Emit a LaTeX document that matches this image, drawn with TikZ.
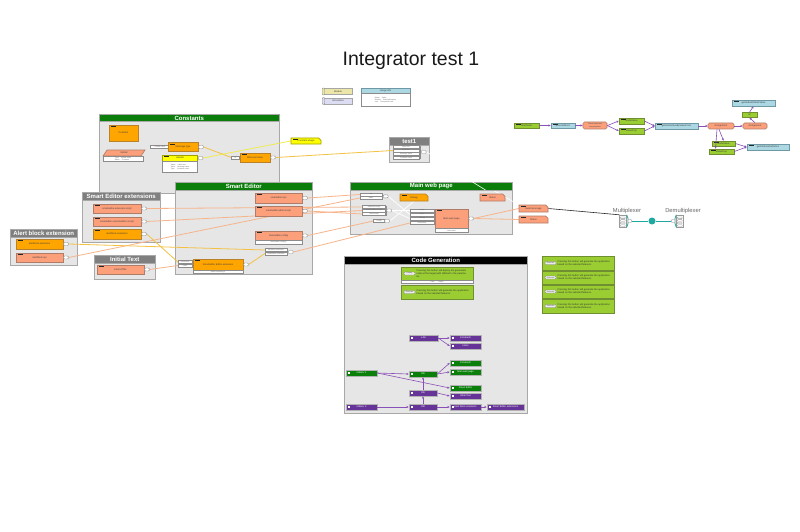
\documentclass[tikz,border=0pt]{standalone}
\usepackage{fontspec}
\setmainfont{Liberation Sans}
\usetikzlibrary{shapes.geometric,shapes.misc,arrows.meta}
\pgfdeclarelayer{grp}
\pgfdeclarelayer{wires}
\pgfsetlayers{grp,wires,main}

\definecolor{hdgreen}{HTML}{0A7D0A}
\definecolor{hdgrey}{HTML}{7F7F7F}
\definecolor{grpfill}{HTML}{E6E6E6}
\definecolor{grpdraw}{HTML}{A8A8A8}
\definecolor{orf}{HTML}{FFA500}
\definecolor{ord}{HTML}{B9812A}
\definecolor{saf}{HTML}{FCA07C}
\definecolor{sad}{HTML}{B07C68}
\definecolor{yef}{HTML}{FFFF00}
\definecolor{yed}{HTML}{A0A000}
\definecolor{lif}{HTML}{9ACD32}
\definecolor{lid}{HTML}{6F8F30}
\definecolor{blf}{HTML}{ACD8E4}
\definecolor{bld}{HTML}{6E98A4}
\definecolor{puf}{HTML}{663399}
\definecolor{dgf}{HTML}{0A800A}
\definecolor{wireor}{HTML}{F7B48A}
\definecolor{wireye}{HTML}{F3C244}
\definecolor{wirey2}{HTML}{F0EC40}
\definecolor{arrpu}{HTML}{8A4FB8}
\definecolor{tealc}{HTML}{1FA9A0}
\definecolor{legy}{HTML}{ECE6A8}
\definecolor{legl}{HTML}{DCDCF2}

\newcommand\tinyf{\fontsize{2.4}{2.9}\selectfont}
\newcommand\microf{\fontsize{1.8}{2.1}\selectfont}

\tikzset{
  grpbody/.style={draw=grpdraw, fill=grpfill, line width=0.9pt, anchor=north west, inner sep=0pt},
  grphead/.style={anchor=north west, inner sep=0pt, minimum height=7.5pt, text=white,
    font=\bfseries\fontsize{6}{6}\selectfont, draw=grpdraw, line width=0.5pt},
  box/.style={rectangle, inner sep=0.5pt, line width=0.6pt, font=\tinyf, align=center, text=black!75},
  ob/.style={box, draw=ord, fill=orf},
  sb/.style={box, draw=sad, fill=saf},
  yb/.style={box, draw=yed, fill=yef},
  gb/.style={box, draw=lid, fill=lif},
  bb/.style={box, draw=bld, fill=blf},
  pb/.style={box, draw=black!30, fill=puf, text=white, ico},
  db/.style={box, draw=black!30, fill=dgf, text=white, ico},
  tag/.style={path picture={\fill[black!85] ([xshift=1.5pt,yshift=-1.3pt]path picture bounding box.north west) rectangle ++(5pt,-0.7pt);}},
  ico/.style={path picture={\fill[white] ([xshift=2pt,yshift=-1pt]path picture bounding box.west) rectangle ++(2pt,2pt);}},
  note/.style={chamfered rectangle, chamfered rectangle corners=north east, chamfered rectangle xsep=1.2pt, chamfered rectangle ysep=1.2pt, tag},
  lbl/.style={rectangle, draw=black!45, fill=white, line width=0.4pt, inner sep=0.3pt, font=\microf, text=black!60, minimum height=3pt},
  port/.style={rectangle, rounded corners=1pt, draw=black!45, fill=white, line width=0.4pt, minimum width=5pt, minimum height=3pt, anchor=west, inner sep=0pt},
  strip/.style={rectangle, draw=black!45, fill=white, line width=0.4pt, anchor=north, inner sep=0.3pt, font=\microf, text=black!60},
  btn/.style={rectangle, rounded corners=0.8pt, draw=black!50, fill=black!8, line width=0.4pt, minimum width=11pt, minimum height=3pt, inner sep=0pt, font=\microf, text=black!70},
  btxt/.style={anchor=west, font=\tinyf, text=black!80, text width=54pt, align=left, inner sep=0pt},
  wo/.style={draw=wireor, line width=0.8pt},
  wy/.style={draw=wireye, line width=0.8pt},
  wy2/.style={draw=wirey2, line width=0.7pt},
  ww/.style={draw=white, line width=0.7pt},
  arr/.style={draw=arrpu, line width=0.6pt, -{Stealth[length=2.4pt,width=2.2pt]}},
  muxbox/.style={rectangle, draw=black!40, fill=white, line width=0.4pt, minimum width=7pt, minimum height=12pt, inner sep=0pt,
    path picture={\foreach \k in {1,...,4}{\draw[black!40, line width=0.3pt, rounded corners=0.6pt]
      ([xshift=0.8pt,yshift=-\k*2.6pt+0.6pt]path picture bounding box.north west) rectangle ++(5pt,-1.6pt);}}},
}

\begin{document}
\begin{tikzpicture}[x=1pt,y=-1pt]
\useasboundingbox (0,0) rectangle (800,532);

% ---------- group frames ----------
\begin{pgfonlayer}{grp}
\fill[white] (0,0) rectangle (800,532);
\node[grpbody, minimum width=180pt, minimum height=79pt] (gConst) at (99,114) {};
\node[grphead, fill=hdgreen, minimum width=180pt] (gConstH) at (99,114) {Constants};
\node[grpbody, minimum width=40pt, minimum height=25pt] (gTest) at (389,137) {};
\node[grphead, fill=hdgrey, minimum width=40pt] (gTestH) at (389,137) {test1};
\node[grpbody, minimum width=78pt, minimum height=50pt] (gSex) at (82,192) {};
\node[grphead, fill=hdgrey, minimum width=78pt] (gSexH) at (82,192) {Smart Editor extensions};
\node[grpbody, minimum width=67pt, minimum height=36pt] (gAlert) at (10,229) {};
\node[grphead, fill=hdgrey, minimum width=67pt] (gAlertH) at (10,229) {Alert block extension};
\node[grpbody, minimum width=61pt, minimum height=24pt] (gInit) at (94,255) {};
\node[grphead, fill=hdgrey, minimum width=61pt] (gInitH) at (94,255) {Initial Text};
\node[grpbody, minimum width=137pt, minimum height=92pt] (gSe) at (175,182) {};
\node[grphead, fill=hdgreen, minimum width=137pt] (gSeH) at (175,182) {Smart Editor};
\node[grpbody, minimum width=162pt, minimum height=52pt] (gMw) at (350,182) {};
\node[grpbody, minimum width=183pt, minimum height=157pt] (gCg) at (344,256) {};
\node[grphead, fill=black, minimum width=183pt] (gCgH) at (344,256) {Code Generation};
\end{pgfonlayer}

% ---------- title and legend ----------
\node[font=\fontsize{19.5}{19.5}\selectfont, text=black!90] (title) at (411,61) {Integrator test 1};
\node[box, draw=black!35, fill=legy, minimum width=28pt, minimum height=6pt] (lgMod) at (338,91.5) {Module};
\node[draw=black!50, fill=legy, minimum width=2.5pt, minimum height=7pt, rounded corners=0.8pt, inner sep=0pt] (lgModI) at (323.5,91.5) {};
\node[box, draw=black!35, fill=legl, minimum width=28pt, minimum height=6pt] (lgAnn) at (338,101) {Annotation};
\node[draw=black!50, fill=legl, minimum width=2.5pt, minimum height=7pt, rounded corners=0.8pt, inner sep=0pt] (lgAnnI) at (323.5,101) {};
\node[bb, minimum width=49pt, minimum height=5pt] (lgUse) at (385.5,90.5) {Usage info};
\node[strip, minimum width=49pt, minimum height=13pt, align=left] (lgUseT) at (lgUse.south) {Name \quad Value\\Module \quad Selected feature\\Link \quad Generated code};

% ---------- Constants ----------
\node[ob, tag, minimum width=29pt, minimum height=16pt] (kConst) at (123.5,133) {Constant};
\fill[saf, draw=sad, line width=0.6pt] (103,156) -- (107,150) -- (145,150) -- (141,156) -- cycle;
\node[font=\tinyf, text=black!75, inner sep=0pt] (kGlobal) at (124,153) {Global};
\node[strip, minimum width=40pt, minimum height=5pt, align=left] (kGlobalT) at (123,156) {Type \quad Global value\\Name \quad Constant};
\node[lbl, minimum width=20pt] (kDef) at (160,146.5) {Default value};
\node[ob, tag, minimum width=30pt, minimum height=9pt] (kMsg) at (183,147) {Message type};
\node[port] (kMsgP) at (kMsg.east) {};
\node[yb, tag, minimum width=35pt, minimum height=6pt] (kHead) at (180,158) {Header};
\node[strip, minimum width=35pt, minimum height=11pt, align=left] (kHeadT) at (kHead.south) {Name \quad Label text\\Value \quad Message label\\Type \quad Constant value};
\node[port] (kHeadP) at (kHead.east) {};
\node[ob, tag, minimum width=30pt, minimum height=9pt] (kWire) at (255,157.5) {Wire real value};
\node[lbl, minimum width=8pt, anchor=east] (kWireIn) at (kWire.west) {in};
\node[port] (kWireP) at (kWire.east) {};
\node[yb, note, minimum width=30pt, minimum height=6pt] (nUse) at (306,141) {Constant usage};

% ---------- test1 ----------
\node[lbl, minimum width=26pt] (t1a) at (406,147) {Input one};
\node[lbl, minimum width=26pt] (t1b) at (406,150.5) {Input two};
\node[lbl, minimum width=26pt] (t1c) at (406,154) {Message stack};
\node[lbl, minimum width=26pt] (t1d) at (406,157.5) {Constant value};
\draw[black!45, line width=0.5pt] (420.5,145.5) -- (420.5,159);
\node[port] (t1P) at (421,152) {};

% ---------- Smart Editor extensions ----------
\node[sb, tag, minimum width=48pt, minimum height=9pt] (seX1) at (117,208.5) {smarteditor.extension.script};
\node[port] (seX1P) at (seX1.east) {};
\node[sb, tag, minimum width=48pt, minimum height=9pt] (seX2) at (117,221.5) {smarteditor.customeditors.script};
\node[port] (seX2P) at (seX2.east) {};
\node[ob, tag, minimum width=48pt, minimum height=10pt] (seX3) at (117,234) {alertblock.extension};
\node[port] (seX3P) at (seX3.east) {};

% ---------- Alert block extension ----------
\node[ob, tag, minimum width=47pt, minimum height=10pt] (abX) at (39.5,244) {alertblock.extension};
\node[port] (abXP) at (abX.east) {};
\node[sb, tag, minimum width=47pt, minimum height=9pt] (abA) at (39.5,257.5) {alertblock.api};
\node[port] (abAP) at (abA.east) {};

% ---------- Initial Text ----------
\node[sb, tag, minimum width=47pt, minimum height=9pt] (itH) at (120.5,269.5) {initial HTML};
\node[port] (itHP) at (itH.east) {};

% ---------- Smart Editor ----------
\node[sb, tag, minimum width=47pt, minimum height=10pt] (seApi) at (278.5,198) {smarteditor.api};
\node[port] (seApiP) at (seApi.east) {};
\node[sb, tag, minimum width=47pt, minimum height=10pt] (seEd) at (278.5,211) {smarteditor.editor.script};
\node[port] (seEdP) at (seEd.east) {};
\node[sb, tag, minimum width=47pt, minimum height=9pt] (seCfg) at (278.5,235.5) {smarteditor.config};
\node[strip, minimum width=47pt, minimum height=3.5pt] (seCfgT) at (seCfg.south) {smarteditor.config.js};
\node[port] (seCfgP) at (seCfg.east) {};
\node[ob, tag, minimum width=50pt, minimum height=11pt] (seExt) at (218,264.5) {Smarteditor Editor extension};
\node[strip, minimum width=50pt, minimum height=3pt] (seExtT) at (seExt.south) {editor.extension.js};
\node[port] (seExtP) at (seExt.east) {};
\node[lbl, minimum width=14pt] (seIn1) at (185,262) {extensions};
\node[lbl, minimum width=14pt] (seIn2) at (185,265.5) {initial};
\node[lbl, minimum width=22pt] (seMx1) at (276,250) {alertblock.extension};
\node[lbl, minimum width=22pt] (seMx2) at (276,253.5) {smarteditor.extension};
\draw[black!45, line width=0.5pt] (287.5,248.5) -- (287.5,255);
\node[port] (seMxP) at (288,252) {};

% ---------- Main web page ----------
\begin{pgfonlayer}{wires}
\draw[white, line width=0.6pt] (t1P.east) -- (519,205);
\end{pgfonlayer}
\node[grphead, fill=hdgreen, minimum width=162pt] (gMwH) at (350,182) {Main web page};
\draw[white, line width=0.6pt] (472.5,182) -- (485.5,190);
\node[ob, note, minimum width=28pt, minimum height=7pt] (mwDbg) at (414,197.5) {Debug};
\node[sb, note, minimum width=25pt, minimum height=7pt] (mwSt) at (492.5,197.5) {Status};
\node[lbl, minimum width=22pt] (mwL1a) at (371,194.5) {api};
\node[lbl, minimum width=22pt] (mwL1b) at (371,198) {editor};
\draw[black!45, line width=0.5pt] (382.5,193) -- (382.5,199.5);
\node[port] (mwL1P) at (383,196.3) {};
\node[lbl, minimum width=23pt] (mwL2a) at (374,207) {extension.script};
\node[lbl, minimum width=23pt] (mwL2b) at (374,210.5) {customeditors.script};
\node[lbl, minimum width=23pt] (mwL2c) at (374,214) {editor.script};
\draw[black!45, line width=0.5pt] (386,205.5) -- (386,215.5);
\node[port] (mwL2P) at (386.5,210.5) {};
\node[lbl, minimum width=11pt] (mwL3) at (379,221) {config};
\node[port] (mwL3P) at (384.5,221) {};
\node[lbl, minimum width=24pt] (mwIn1) at (422,210.5) {scripts};
\node[lbl, minimum width=24pt] (mwIn2) at (422,214.5) {styles};
\node[lbl, minimum width=24pt] (mwIn3) at (422,218.5) {debug};
\node[lbl, minimum width=24pt] (mwIn4) at (422,223) {extensions};
\node[sb, tag, minimum width=33pt, minimum height=19pt] (mwMain) at (451.5,218.5) {Main web page};
\node[strip, minimum width=33pt, minimum height=4pt] (mwMainT) at (mwMain.south) {index.html};
\node[port] (mwMainP) at (mwMain.east) {};

% ---------- outputs and multiplexing ----------
\node[sb, note, minimum width=29pt, minimum height=7pt] (extU) at (533.5,208.5) {External usage};
\node[sb, note, minimum width=29pt, minimum height=7pt] (stat) at (533.5,219.5) {Status};
\node[font=\fontsize{5.8}{5.8}\selectfont, text=black!60] (muxL) at (627,210.5) {Multiplexer};
\node[font=\fontsize{5.8}{5.8}\selectfont, text=black!60] (dmxL) at (683,210.5) {Demultiplexer};
\node[muxbox] (mux) at (623,221) {};
\draw[tealc, line width=0.8pt] (mux.north east) to[bend left=25] (mux.south east);
\node[port, minimum width=4pt] (muxP) at ([xshift=1pt]mux.east) {};
\node[muxbox] (dmx) at (680,221) {};
\draw[tealc, line width=0.8pt] (dmx.north west) to[bend right=25] (dmx.south west);
\node[port, minimum width=4pt, anchor=east] (dmxP) at ([xshift=-1pt]dmx.west) {};
\node[circle, fill=tealc, minimum size=7pt, inner sep=0pt] (hub) at (652,221) {};

% ---------- Code Generation ----------
\node[gb, minimum width=72pt, minimum height=13pt] (cg1) at (437,273.5) {};
\node[strip, minimum width=72pt, minimum height=3pt] (cg1T) at (cg1.south) {Path \qquad Target};
\node[btn] (cg1b) at (409.5,273.5) {Deploy};
\node[btxt] (cg1t) at (416.5,273.5) {Pressing this button will deploy the generated code at the target path defined in the parameter.};
\node[gb, minimum width=72pt, minimum height=14pt] (cg2) at (437,292) {};
\node[btn] (cg2b) at (409.5,292) {Generate};
\node[btxt] (cg2t) at (416.5,292) {Pressing this button will generate the application based on the selected features.};

\node[pb, minimum width=29pt, minimum height=6pt] (pA) at (423.5,338) {a.bb};
\node[pb, minimum width=31pt, minimum height=6pt] (pC1) at (465.5,338) {Constants};
\node[pb, minimum width=31pt, minimum height=6pt] (pI) at (465.5,346) {Initial};
\node[db, minimum width=31pt, minimum height=6pt] (gC2) at (465.5,363) {Constants};
\node[db, minimum width=31pt, minimum height=6pt] (gM) at (465.5,372) {Main web page};
\node[db, minimum width=31pt, minimum height=6pt] (gI1) at (361.5,373) {initiator 1};
\node[db, minimum width=28pt, minimum height=6pt] (gT) at (423,374) {t.bb};
\node[db, minimum width=31pt, minimum height=6pt] (gS) at (465.5,388) {Smart Editor};
\node[pb, minimum width=31pt, minimum height=6pt] (pIT) at (465.5,396) {Initial Text};
\node[pb, minimum width=28pt, minimum height=6pt] (pT2) at (423,393) {t.bb};
\node[pb, minimum width=31pt, minimum height=6pt] (pI2) at (361.5,407) {initiator 2};
\node[pb, minimum width=28pt, minimum height=6pt] (pT3) at (423,407) {t.bb};
\node[pb, minimum width=31pt, minimum height=6pt] (pAB) at (465.5,407) {Alert block extension};
\node[pb, minimum width=37pt, minimum height=6pt] (pSX) at (505.5,407) {Smart Editor extensions};

\draw[arr] (pA.east) -- (pC1.west);
\draw[arr] (pA.east) -- (pI.west);
\draw[arr] (gI1.east) -- (gT.west);
\draw[arr] (gI1.east) -- (gS.west);
\draw[arr] (gT.east) -- (gC2.west);
\draw[arr] (gT.east) -- (gM.west);
\draw[arr] (pT2.north) -- (gT.south);
\draw[arr] (pT2.east) -- (pIT.west);
\draw[arr] (pI2.east) -- (pT3.west);
\draw[arr] (pT3.north) -- (pT2.south);
\draw[arr] (pT3.east) -- (pAB.west);
\draw[arr] (pAB.east) -- (pSX.west);

% ---------- generation buttons ----------
\foreach \nm/\yy/\hh in {r1/263/14, r2/277.5/13, r3/291.5/13, r4/306/14}{
  \node[gb, minimum width=72pt, minimum height=\hh pt] (\nm) at (578,\yy) {};
  \node[btn] (\nm b) at (550.5,\yy) {Generate};
  \node[btxt] (\nm t) at (557.5,\yy) {Pressing this button will generate the application based on the selected features.};
}

% ---------- flow ----------
\node[gb, tag, minimum width=25pt, minimum height=5pt] (f1) at (526.5,125.5) {StartNode};
\node[bb, tag, minimum width=24pt, minimum height=5pt] (f2) at (563,125.5) {preconditions};
\node[sb, rounded corners=1.5pt, minimum width=24pt, minimum height=7pt, font=\microf] (f3) at (595,125.5) {Check inputs and\\and properties};
\node[gb, tag, minimum width=25pt, minimum height=6pt] (f4) at (631.5,121) {NodeValue};
\node[gb, tag, minimum width=25pt, minimum height=6pt] (f5) at (631.5,131) {ValueProp};
\node[bb, tag, minimum width=43pt, minimum height=6pt] (f6) at (676.5,126) {getNodeValueByValueFrom};
\node[sb, rounded corners=1.5pt, minimum width=26pt, minimum height=6pt] (f7) at (721,126) {Assignment};
\node[sb, rounded corners=1.5pt, minimum width=24pt, minimum height=6pt] (f8) at (755,126) {Assignment};
\node[gb, minimum width=15pt, minimum height=5pt] (f9) at (749.5,115) {Id};
\node[bb, tag, minimum width=43pt, minimum height=6pt] (f10) at (753.5,103) {getNodeAttributeValue};
\node[gb, tag, minimum width=23pt, minimum height=5pt] (f11) at (723.5,143.5) {NodeValue};
\node[gb, tag, minimum width=25pt, minimum height=5pt] (f12) at (721.5,151.5) {ValueProp};
\node[bb, tag, minimum width=42pt, minimum height=6pt] (f13) at (768,147) {getAttributeDefinition};

\draw[arr] (f1.east) -- (f2.west);
\draw[arr] (f2.east) -- (f3.west);
\draw[arr] (f3.east) -- (f4.west);
\draw[arr] (f3.east) -- (f5.west);
\draw[arr] (f4.east) -- (f6.west);
\draw[arr] (f5.east) -- (f6.west);
\draw[arr] (f6.east) -- (f7.west);
\draw[arr] (f7.east) -- (f8.west);
\draw[arr] (f8.north) -- (f9.south);
\draw[arr] (f9.north) -- (f10.south);
\draw[arr] ([xshift=-2pt]f7.south) -- (f11.north);
\draw[arr] ([xshift=-4pt]f7.south) -- ([xshift=-6pt]f12.north);
\draw[arr] (f11.east) -- (f13.west);
\draw[arr] (f12.east) -- (f13.west);

% ---------- wiring ----------
\begin{pgfonlayer}{wires}
\draw[wy] (kMsgP.east) -- (kWireIn.west);
\draw[wy2] (kHeadP.east) -- (nUse.west);
\draw[wy] (kWireP.east) -- (t1b.west);
\draw[wo] (seX1P.east) -- (mwL2a.west);
\draw[wo] (seX2P.east) -- (mwL2b.west);
\draw[wo] (abAP.east) -- (mwL1b.west);
\draw[wo] (seApiP.east) -- (mwL1a.west);
\draw[wo] (seEdP.east) -- (mwL2c.west);
\draw[wo] (seCfgP.east) -- (mwL3.west);
\draw[wo] (seMxP.east) -- (mwIn4.west);
\draw[wo] (itHP.east) -- (seIn2.west);
\draw[wy] (seX3P.east) -- (seIn1.west);
\draw[wy] (abXP.east) -- (seMx1.west);
\draw[wy] (seExtP.east) -- (seMx2.west);
\draw[ww] (mwL1P.east) -- (mwIn2.west);
\draw[ww] (mwL2P.east) -- (mwIn1.west);
\draw[ww] (mwL3P.east) -- (mwDbg.south);
\draw[ww] (mwL2P.east) -- (mwIn3.west);
\draw[wo] (mwMainP.east) -- (extU.west);
\draw[wo] (mwMainP.east) -- (stat.west);
\draw[black!85, line width=0.6pt] (extU.east) -- (mux.north west);
\draw[tealc, line width=0.9pt] (muxP.east) -- (hub) -- (dmxP.west);
\end{pgfonlayer}
\end{tikzpicture}
\end{document}
